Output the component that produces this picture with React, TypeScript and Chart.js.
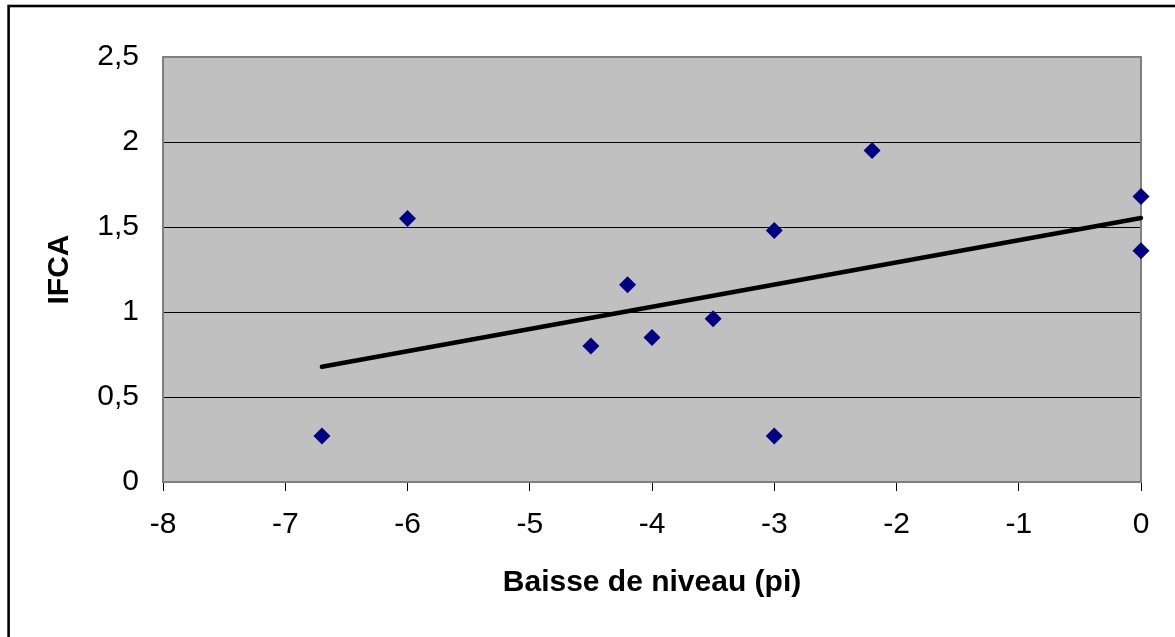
import React, { useEffect, useRef } from "react";
import { Chart, registerables } from "chart.js";

Chart.register(...registerables);

const xValues = [-6.7, -6, -4.5, -4.2, -4, -3.5, -3, -3, -2.2, 0, 0];
const yValues = [0.27, 1.55, 0.8, 1.16, 0.85, 0.96, 1.48, 0.27, 1.95, 1.68, 1.36];
const trendX = [-6.7, 0];
const trendY = [0.678, 1.553];
const xTitle = "Baisse de niveau (pi)";
const yTitle = "IFCA";

const W = 1175;
const H = 637;
const PLOT_LEFT = 163;
const PLOT_RIGHT = 1141;
const PLOT_TOP = 57;
const PLOT_BOTTOM = 482;
const FONT = "'Liberation Sans', Arial, sans-serif";

const frame = {
  id: "frame",
  beforeDraw(chart: any) {
    const { ctx, chartArea } = chart;
    ctx.save();
    ctx.fillStyle = "#ffffff";
    ctx.fillRect(0, 0, chart.width, chart.height);
    ctx.strokeStyle = "#000000";
    ctx.lineWidth = 2.6;
    ctx.strokeRect(8.6, 6, 1400, 900);
    ctx.fillStyle = "#C0C0C0";
    ctx.fillRect(chartArea.left, chartArea.top, chartArea.right - chartArea.left, chartArea.bottom - chartArea.top);
    ctx.restore();
  },
  beforeDatasetsDraw(chart: any) {
    const { ctx, chartArea } = chart;
    ctx.save();
    ctx.strokeStyle = "#808080";
    ctx.lineWidth = 2;
    ctx.strokeRect(chartArea.left, chartArea.top, chartArea.right - chartArea.left, chartArea.bottom - chartArea.top);
    ctx.restore();
  },
};

export default function App() {
  const ref = useRef<HTMLCanvasElement>(null);
  useEffect(() => {
    if (!ref.current) return;
    const points = xValues.map((x, i) => ({ x, y: yValues[i] }));
    const trend = trendX.map((x, i) => ({ x, y: trendY[i] }));
    const chart = new Chart(ref.current, {
      type: "scatter",
      data: {
        datasets: [
          {
            label: "IFCA",
            data: points,
            pointStyle: "rectRot",
            pointRadius: 8.5,
            pointHoverRadius: 8.5,
            backgroundColor: "#000080",
            borderColor: "#000080",
            borderWidth: 0,
            clip: false as any,
            order: 2,
          },
          {
            label: "Tendance",
            data: trend,
            showLine: true,
            pointRadius: 0,
            borderColor: "#000000",
            borderWidth: 4.5,
            borderCapStyle: "round",
            fill: false,
            clip: false as any,
            order: 1,
          } as any,
        ],
      },
      options: {
        responsive: false,
        animation: false,
        devicePixelRatio: 1,
        layout: { padding: { left: 0, top: PLOT_TOP, right: W - PLOT_RIGHT, bottom: 0 } },
        plugins: { legend: { display: false }, tooltip: { enabled: false } },
        scales: {
          x: {
            type: "linear",
            min: -8,
            max: 0,
            afterFit(scale: any) {
              scale.height = H - PLOT_BOTTOM;
            },
            ticks: {
              stepSize: 1,
              color: "#000000",
              padding: 16,
              font: { family: FONT, size: 30 },
              maxRotation: 0,
            },
            grid: {
              drawOnChartArea: false,
              drawTicks: true,
              tickLength: 9,
              color: "#000000",
              lineWidth: 1,
            },
            border: { display: false },
            title: {
              display: true,
              text: xTitle,
              color: "#000000",
              font: { family: FONT, size: 30, weight: "bold" },
              padding: { top: 0, bottom: 36 },
            },
          },
          y: {
            type: "linear",
            min: 0,
            max: 2.5,
            afterFit(scale: any) {
              scale.width = PLOT_LEFT;
            },
            ticks: {
              stepSize: 0.5,
              color: "#000000",
              padding: 24,
              font: { family: FONT, size: 30 },
              callback: (v: any) => String(v).replace(".", ","),
            },
            grid: {
              drawTicks: false,
              color: (c: any) =>
                c.tick && (c.tick.value === 0 || c.tick.value === 2.5) ? "rgba(0,0,0,0)" : "#000000",
              lineWidth: 1,
            },
            border: { display: false },
            title: {
              display: true,
              text: yTitle,
              color: "#000000",
              font: { family: FONT, size: 30, weight: "bold" },
              padding: { top: 42, bottom: 0 },
            },
          },
        },
      },
      plugins: [frame],
    });
    return () => chart.destroy();
  }, []);
  return (
    <div style={{ position: "fixed", left: 0, top: 0, width: W, height: H, background: "#fff" }}>
      <canvas ref={ref} width={W} height={H} style={{ display: "block", width: W, height: H }} />
    </div>
  );
}
